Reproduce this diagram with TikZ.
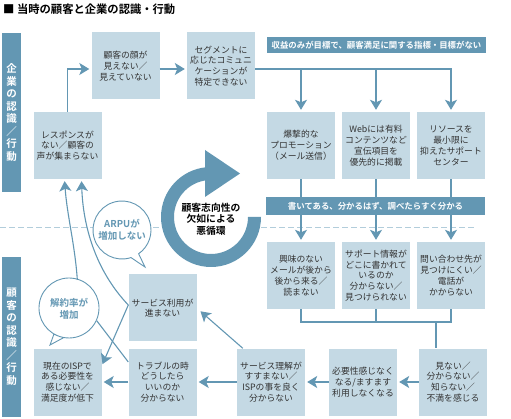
\documentclass[tikz,border=0pt]{standalone}
\usepackage{fontspec}
\setmainfont{Noto Sans CJK JP}[BoldFont={Noto Sans CJK JP Bold}]
\usetikzlibrary{arrows.meta}

\definecolor{dblue}{RGB}{99,151,179}
\definecolor{lblue}{RGB}{196,217,228}
\definecolor{dashblue}{RGB}{178,205,219}
\definecolor{txtgray}{RGB}{51,51,51}

\tikzset{
  box/.style={fill=lblue, minimum width=68pt, minimum height=67pt, inner sep=0pt,
    align=center, text=txtgray, font=\fontsize{8.8}{10.8}\selectfont},
  banner/.style={fill=dblue, text=white, inner sep=0pt, font=\bfseries\fontsize{8.4}{10}\selectfont},
  sidebar/.style={fill=dblue, text=white, minimum width=19pt, inner sep=0pt, align=center,
    font=\bfseries\fontsize{10.5}{12.5}\selectfont},
  arr/.style={draw=dblue, line width=1.1pt, -{Stealth[length=10pt,width=12pt,inset=2.5pt]}, shorten >=2pt},
  conn/.style={draw=dblue, line width=1.1pt},
  bubline/.style={draw=dblue, line width=0.9pt, fill=white},
  bubtext/.style={circle, inner sep=0pt, align=center, text=dblue, font=\bfseries\fontsize{9.5}{12}\selectfont},
}

\begin{document}
\begin{tikzpicture}[x=1pt,y=-1pt]
    \useasboundingbox (0,0) rectangle (511,419);

    % Title
    \node[anchor=west, inner sep=0pt, font=\bfseries\fontsize{11.3}{13}\selectfont] (title) at (3,9) {■ 当時の顧客と企業の認識・行動};

    % Side bars
    \node[sidebar, minimum height=159pt] (corp) at (11.5,112.5) {企\\業\\の\\認\\識\\／\\行\\動};
    \node[sidebar, minimum height=160pt] (cust) at (11.5,337) {顧\\客\\の\\認\\識\\／\\行\\動};

    % Divider
    \draw[dashblue, line width=0.8pt, dash pattern=on 6pt off 3pt] (0,227) -- (476,227);

    % Top row
    \node[box] (face) at (125.5,66) {顧客の顔が\\見えない／\\見えていない};
    \node[box] (seg) at (221,66) {セグメントに\\応じたコミュニ\\ケーションが\\特定できない};
    \node[banner, minimum width=219pt, minimum height=16pt] (goal) at (376.5,45) {収益のみが目標で、顧客満足に関する指標・目標がない};

    % Company actions
    \foreach \n/\x/\t in {a/301/{爆撃的な\\プロモーション\\（メール送信）},
                          b/376/{Webには有料\\コンテンツなど\\宣伝項目を\\優先的に掲載},
                          c/451/{リソースを\\最小限に\\抑えたサポート\\センター}} {
        \node[box] (p\n) at (\x,145.5) {\t};
    }

    % Customer reactions
    \foreach \n/\x/\t in {a/301/{興味のない\\メールが後から\\後から来る／\\読まない},
                          b/376/{サポート情報が\\どこに書かれて\\いるのか\\分からない／\\見つけられない},
                          c/451/{問い合わせ先が\\見つけにくい／\\電話が\\かからない}} {
        \node[box] (q\n) at (\x,275.5) {\t};
    }

    % Bottom row
    \node[box] (rd) at (453,382) {見ない／\\分からない／\\知らない／\\不満を感じる};
    \node[box] (re) at (363,382) {必要性感じなく\\なる/ますます\\利用しなくなる};
    \node[box] (rf) at (271,382) {サービス理解が\\すすまない／\\ISPの事を良く\\分からない};
    \node[box] (rg) at (162.5,382) {トラブルの時\\どうしたら\\いいのか\\分からない};
    \node[box] (rh) at (67.5,382) {現在のISPで\\ある必要性を\\感じない／\\満足度が低下};
    \node[box] (ri) at (162.5,308) {サービス利用が\\進まない};
    \node[box] (rj) at (67.5,145.5) {レスポンスが\\ない／顧客の\\声が集まらない};

    % Top flow
    \draw[arr] (rj.north) |- ([yshift=-3pt]face.west);
    \draw[arr] ([yshift=-3pt]face.east) -- ([yshift=-3pt]seg.west);
    \coordinate (hl) at ([yshift=-3pt]seg.east);
    \draw[arr] (hl) -| (pc.north);
    \draw[arr] (pa.north |- hl) -- (pa.north);
    \draw[arr] (pb.north |- hl) -- (pb.north);

    % Through the second banner
    \foreach \n in {a,b,c} {
        \draw[arr] (p\n.south) -- (q\n.north);
    }
    \node[banner, minimum width=219pt, minimum height=18pt] (claim) at (375.5,206) {書いてある、分かるはず、調べたらすぐ分かる};

    % Merge into bottom row
    \coordinate (mg) at (436,322);
    \draw[conn] (qa.south) |- (mg) -| (qc.south);
    \draw[conn] (qb.south) -- (qb.south |- mg);
    \draw[conn] (mg) -- (mg |- rd.north);

    % Bottom flow
    \draw[arr] (rd) -- (re);
    \draw[arr] (re) -- (rf);
    \draw[arr] (rf) -- (rg);
    \draw[arr] (rg) -- (rh);
    \draw[arr, shorten >=5pt] ([xshift=6pt]rf.north west) -- (ri.east);

    % Vicious circle
    \fill[white] (211,217) circle[radius=37];
    \fill[dblue] (211,217) ++(0:50) arc[start angle=0, end angle=265, radius=50]
        -- ++(265:-13) arc[start angle=265, end angle=0, radius=37] -- cycle;
    \fill[dblue] (205,150) -- (240,173.5) -- (205,197) -- cycle;
    \node[align=center, font=\bfseries\fontsize{9.8}{11.3}\selectfont] (loop) at (211,219) {顧客志向性の\\欠如による\\悪循環};

    % Speech bubbles
    \filldraw[bubline] (122,230) ++(72:29) arc[start angle=72, end angle=415, radius=29] -- (145,267) -- cycle;
    \node[bubtext, minimum size=58pt] (arpu) at (122,230) {ARPUが\\増加しない};
    \filldraw[bubline] (69,308) ++(100:30) arc[start angle=100, end angle=480, radius=30] -- (50,345) -- cycle;
    \node[bubtext, minimum size=60pt] (churn) at (69,309) {解約率が\\増加};

    % Back to the company
    \draw[conn] ([yshift=20pt]rg.west) -- (churn.-23);
    \draw[arr] (churn.74) .. controls (75,245) and (67,215) .. ([xshift=-3pt]rj.south);
    \draw[arr] ([yshift=3pt]ri.west) .. controls (95,270) and (83,225) .. ([xshift=14pt]rj.south);
    \draw[arr] ([yshift=3pt]ri.west) -- ([yshift=16pt]rh.east);
\end{tikzpicture}
\end{document}
